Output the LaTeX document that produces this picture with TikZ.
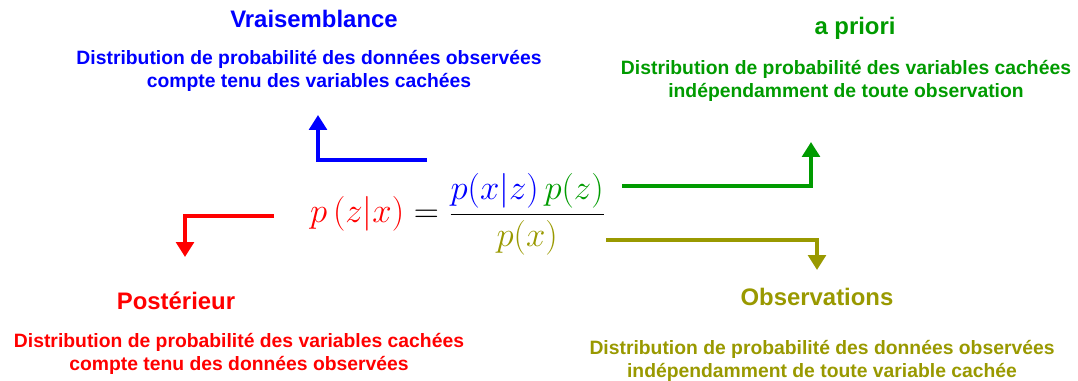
\documentclass[tikz,border=0pt]{standalone}
\usepackage{fix-cm}
\usepackage{fontspec}
\setmainfont{Liberation Sans}
\usepackage{amsmath}
\usepackage{xcolor}
\usetikzlibrary{arrows.meta, positioning}
\definecolor{vgreen}{RGB}{0,155,0}
\definecolor{volive}{RGB}{153,153,0}
\tikzstyle{title} = [font=\fontsize{13.6}{16}\selectfont\bfseries, text centered]
\tikzstyle{desc} = [font=\fontsize{11}{13.5}\selectfont\bfseries, align=center]
\tikzstyle{arrow} = [line width=2.3pt, -{Triangle[length=8.5pt,width=10pt]}]

\begin{document}
\begin{tikzpicture}[x=0.02cm, y=0.02cm]
    \useasboundingbox (0,0) rectangle (1078,381);

    % Bayes formula
    \node (eq) [anchor=base, inner sep=0pt] at (458,158) {\fontsize{19.8}{24}\selectfont
        $\displaystyle {\color{red}p\left(z|x\right)} = \frac{{\color{blue}p(x|z)}\,{\color{vgreen}p(z)}}{{\color{volive}p(x)}}$};

    % titles
    \node (vrai) [title, text=blue] at (314,362) {Vraisemblance};
    \node (prior) [title, text=vgreen] at (855,353) {a priori};
    \node (post) [title, text=red] at (176,80) {Postérieur};
    \node (obs) [title, text=volive] at (817,84) {Observations};

    % descriptions
    \node (vraidesc) [desc, text=blue] at (309,310) {Distribution de probabilité des données observées\\compte tenu des variables cachées};
    \node (priordesc) [desc, text=vgreen] at (846,300) {Distribution de probabilité des variables cachées\\indépendamment de toute observation};
    \node (postdesc) [desc, text=red] at (239,27) {Distribution de probabilité des variables cachées\\compte tenu des données observées};
    \node (obsdesc) [desc, text=volive] at (822,20) {Distribution de probabilité des données observées\\indépendamment de toute variable cachée};

    % arrow ends
    \coordinate (vraiS) at (427,221);
    \coordinate (vraiE) at (318,266);
    \coordinate (postS) at (274,165);
    \coordinate (postE) at (185,124);
    \coordinate (priorS) at (622,195);
    \coordinate (priorE) at (811,239);
    \coordinate (obsS) at (606,141);
    \coordinate (obsE) at (817,111);

    \draw [arrow, blue] (vraiS) -| (vraiE);
    \draw [arrow, red] (postS) -| (postE);
    \draw [arrow, vgreen] (priorS) -| (priorE);
    \draw [arrow, volive] (obsS) -| (obsE);
\end{tikzpicture}
\end{document}
